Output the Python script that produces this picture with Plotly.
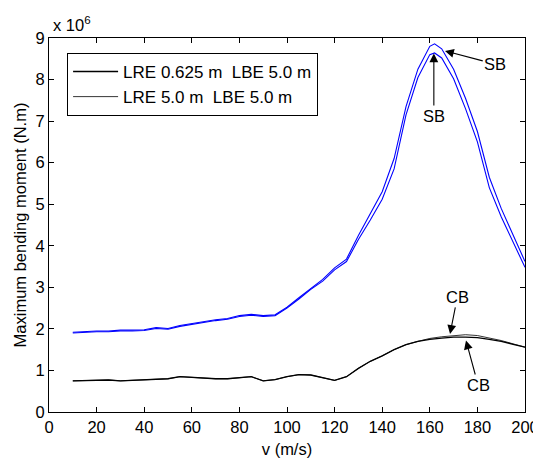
import plotly.graph_objects as go

# ---- data (values in units of 1e6 N.m) ----
v_sb = [10, 15, 20, 25, 30, 35, 40, 45, 50, 55, 60, 65, 70, 75, 80, 85, 90, 95, 100,
        105, 110, 115, 120, 125, 130, 135, 140, 145, 150, 155, 160, 162, 165, 170,
        175, 180, 185, 190, 195, 200]
sb_lre0625 = [1.90, 1.92, 1.93, 1.93, 1.95, 1.95, 1.96, 2.01, 1.99, 2.06, 2.11, 2.15,
              2.20, 2.23, 2.30, 2.33, 2.30, 2.32, 2.50, 2.72, 2.95, 3.15, 3.42, 3.62,
              4.15, 4.62, 5.12, 5.85, 7.15, 8.05, 8.60, 8.64, 8.52, 8.02, 7.30, 6.50,
              5.40, 4.70, 4.10, 3.48]
sb_lre50 = [1.92, 1.94, 1.95, 1.95, 1.97, 1.97, 1.98, 2.03, 2.01, 2.08, 2.13, 2.17,
            2.22, 2.25, 2.32, 2.35, 2.32, 2.34, 2.52, 2.75, 2.98, 3.19, 3.47, 3.68,
            4.25, 4.78, 5.30, 6.10, 7.35, 8.25, 8.80, 8.86, 8.74, 8.25, 7.55, 6.75,
            5.65, 4.90, 4.28, 3.62]

v_cb = [10, 15, 20, 25, 30, 35, 40, 45, 50, 55, 60, 65, 70, 75, 80, 85, 90, 95, 100,
        105, 110, 115, 120, 125, 130, 135, 140, 145, 150, 155, 160, 165, 170, 175,
        180, 185, 190, 195, 200]
cb_lre0625 = [0.75, 0.76, 0.76, 0.77, 0.75, 0.76, 0.78, 0.79, 0.80, 0.85, 0.83, 0.82,
              0.80, 0.80, 0.82, 0.85, 0.75, 0.78, 0.85, 0.90, 0.89, 0.82, 0.76, 0.85,
              1.05, 1.22, 1.35, 1.50, 1.62, 1.70, 1.75, 1.78, 1.80, 1.80, 1.79, 1.75,
              1.70, 1.63, 1.56]
cb_lre50 = [0.75, 0.76, 0.76, 0.77, 0.75, 0.76, 0.78, 0.79, 0.80, 0.85, 0.83, 0.82,
            0.80, 0.80, 0.82, 0.85, 0.75, 0.78, 0.85, 0.90, 0.89, 0.82, 0.76, 0.85,
            1.05, 1.22, 1.35, 1.50, 1.62, 1.70, 1.77, 1.81, 1.84, 1.86, 1.84, 1.78,
            1.72, 1.64, 1.56]

legend_names = ["LRE 0.625 m  LBE 5.0 m", "LRE 5.0 m  LBE 5.0 m"]
x_ticks = [0, 20, 40, 60, 80, 100, 120, 140, 160, 180, 200]
y_ticks = [0, 1, 2, 3, 4, 5, 6, 7, 8, 9]

FONT = "Liberation Sans, Arial, sans-serif"
FS = 16.5

fig = go.Figure()
fig.add_trace(go.Scatter(x=v_cb, y=cb_lre0625, mode="lines", name=legend_names[0],
                         line=dict(color="black", width=1.3)))
fig.add_trace(go.Scatter(x=v_cb, y=cb_lre50, mode="lines", name=legend_names[1],
                         line=dict(color="black", width=0.8)))
fig.add_trace(go.Scatter(x=v_sb, y=sb_lre0625, mode="lines", showlegend=False,
                         line=dict(color="#0000ff", width=1.1)))
fig.add_trace(go.Scatter(x=v_sb, y=sb_lre50, mode="lines", showlegend=False,
                         line=dict(color="#0000ff", width=1.1)))

ann_common = dict(xref="x", yref="y", axref="x", ayref="y", showarrow=True,
                  arrowhead=2, arrowsize=1.6, arrowwidth=1.1, arrowcolor="black",
                  font=dict(family=FONT, size=FS, color="black"))
annotations = [
    dict(text="SB", x=166.4, y=8.69, ax=187.5, ay=8.37, **ann_common),
    dict(text="SB", x=161.7, y=8.63, ax=161.7, ay=7.12, **ann_common),
    dict(text="CB", x=168.5, y=1.88, ax=171.6, ay=2.77, **ann_common),
    dict(text="CB", x=175.2, y=1.72, ax=180.3, ay=0.65, **ann_common),
    dict(text="x 10<sup>6</sup>", xref="paper", yref="paper", x=0.0, y=1.0,
         xanchor="left", yanchor="bottom", showarrow=False, yshift=2, xshift=2,
         font=dict(family=FONT, size=FS, color="black")),
]

axis_common = dict(showline=True, linecolor="black", linewidth=1, mirror="ticks",
                   ticks="inside", ticklen=5, tickcolor="black", showgrid=False,
                   zeroline=False, automargin=False,
                   tickfont=dict(family=FONT, size=FS, color="black"))

# page body has an 8px default margin, so the figure is 8px smaller than the window
fig.update_layout(
    width=533, height=451,
    margin=dict(l=41, r=16, t=30, b=47),
    paper_bgcolor="white", plot_bgcolor="white",
    font=dict(family=FONT, size=FS, color="black"),
    xaxis=dict(range=[0, 200], tickvals=x_ticks,
               title=dict(text="v (m/s)", standoff=8, font=dict(family=FONT, size=FS)),
               **axis_common),
    yaxis=dict(range=[0, 9], tickvals=y_ticks,
               title=dict(text="Maximum bending moment (N.m)", standoff=4,
                          font=dict(family=FONT, size=FS)),
               **axis_common),
    legend=dict(x=0.038, y=0.96, xanchor="left", yanchor="top",
                bordercolor="black", borderwidth=1, bgcolor="white",
                itemwidth=45,
                font=dict(family=FONT, size=17), tracegroupgap=0),
    annotations=annotations,
    showlegend=True,
)

fig.write_html("out.html")
